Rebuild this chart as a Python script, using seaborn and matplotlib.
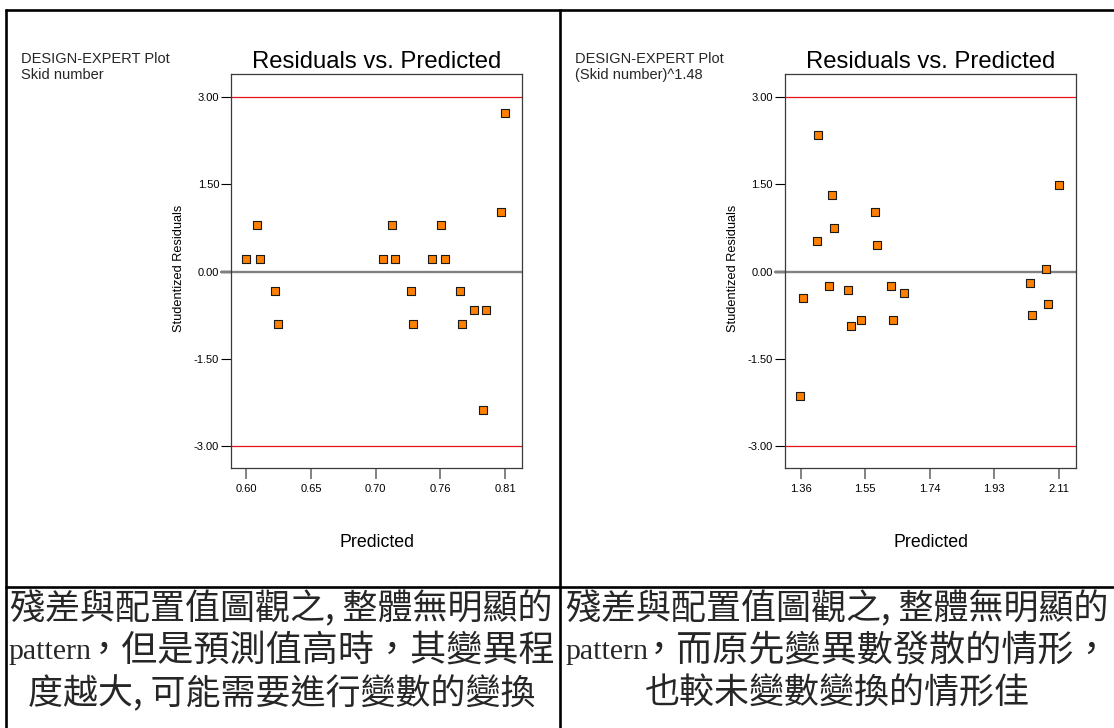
import numpy as np
import pandas as pd
import matplotlib
matplotlib.use("Agg")
import matplotlib.pyplot as plt
from matplotlib.lines import Line2D
import seaborn as sns

# ---------------- data ----------------
left_pred = [0.600, 0.6084, 0.6106, 0.6227, 0.6253, 0.7095, 0.7170, 0.7195, 0.7321, 0.7342,
             0.7491, 0.7566, 0.7594, 0.7718, 0.7738, 0.7833, 0.7928, 0.7902, 0.8051, 0.8077]
left_resid = [0.22, 0.80, 0.22, -0.34, -0.90, 0.22, 0.80, 0.22, -0.34, -0.90,
              0.22, 0.80, 0.22, -0.34, -0.90, -0.66, -0.66, -2.38, 1.02, 2.72]

right_pred = [1.412, 1.4523, 1.5752, 1.457, 1.4076, 1.5824, 1.4425, 1.4985, 1.6239, 1.6608,
              1.3661, 1.5354, 1.5058, 1.6289, 1.3583, 2.0258, 2.074, 2.110, 2.0783, 2.0305]
right_resid = [2.35, 1.315, 1.02, 0.755, 0.52, 0.46, -0.25, -0.31, -0.25, -0.37,
               -0.46, -0.84, -0.93, -0.84, -2.14, -0.19, 0.05, 1.49, -0.56, -0.75]

left_xticks = [0.600, 0.652, 0.704, 0.756, 0.808]
left_xlabels = ["0.60", "0.65", "0.70", "0.76", "0.81"]
right_xticks = [1.36, 1.5475, 1.735, 1.9225, 2.11]
right_xlabels = ["1.36", "1.55", "1.74", "1.93", "2.11"]
yticks = [3.0, 1.5, 0.0, -1.5, -3.0]
ylabels = ["3.00", "1.50", "0.00", "-1.50", "-3.00"]
limit_lines = [3.0, -3.0]

left_header = ["DESIGN-EXPERT Plot", "Skid number"]
right_header = ["DESIGN-EXPERT Plot", "(Skid number)^1.48"]
title = "Residuals vs. Predicted"
xlabel = "Predicted"
ylabel = "Studentized Residuals"

left_note = ["殘差與配置值圖觀之, 整體無明顯的", "pattern", "，但是預測值高時，其變異程",
             "度越大, 可能需要進行變數的變換"]
right_note = ["殘差與配置值圖觀之, 整體無明顯的", "pattern", "，而原先變異數發散的情形，",
              "也較未變數變換的情形佳"]

# ---------------- style ----------------
sns.set_theme(style="ticks")
plt.rcParams['font.family'] = ['Liberation Sans', 'Noto Sans CJK TC', 'DejaVu Sans']

W, H = 1114, 728
fig = plt.figure(figsize=(W / 100, H / 100), dpi=100)
fig.patch.set_facecolor("white")


def fx(x):
    return x / W


def fy(y):
    return 1 - y / H


def add_axes_px(x0, y0, x1, y1):
    return fig.add_axes([fx(x0), fy(y1), (x1 - x0) / W, (y1 - y0) / H])


panels = [
    dict(ax=add_axes_px(231.4, 74.3, 522.1, 467.7), x=left_pred, y=left_resid,
         xt=left_xticks, xl=left_xlabels, xlim=(0.5879, 0.8218), head=left_header, hx=20.7),
    dict(ax=add_axes_px(785.3, 74.3, 1076.0, 467.7), x=right_pred, y=right_resid,
         xt=right_xticks, xl=right_xlabels, xlim=(1.3156, 2.1597), head=right_header, hx=574.6),
]

for p in panels:
    ax = p["ax"]
    df = pd.DataFrame({"Predicted": p["x"], "Residual": p["y"]})
    sns.scatterplot(data=df, x="Predicted", y="Residual", ax=ax, marker="s", s=30,
                    color="#FF8000", edgecolor="#1a1a1a", linewidth=0.8, zorder=4)
    for v in limit_lines:
        ax.axhline(v, color="#E8101A", lw=0.9, zorder=2)
    ax.axhline(0, xmin=-0.036, xmax=1, color="#808080", lw=1.7, clip_on=False, zorder=2)
    ax.set_xlim(*p["xlim"])
    ax.set_ylim(-3.37, 3.39)
    ax.set_xticks(p["xt"])
    ax.set_xticklabels(p["xl"])
    ax.set_yticks(yticks)
    ax.set_yticklabels(ylabels)
    for s in ax.spines.values():
        s.set_visible(True)
        s.set_color("#3a3a3a")
        s.set_linewidth(0.9)
    ax.tick_params(axis="y", direction="out", length=7.2, width=0.8, color="black",
                   pad=1.6, labelsize=8, labelcolor="black")
    ax.tick_params(axis="x", direction="out", length=8, width=1.1, color="#606060",
                   pad=3.8, labelsize=8, labelcolor="black")
    zt = ax.yaxis.get_major_ticks()[2]
    zt.tick1line.set_color("#808080")
    zt.tick1line.set_markeredgewidth(1.7)
    ax.set_title(title, fontsize=17.2, pad=4.3, color="black")
    ax.set_xlabel(xlabel, fontsize=12.8, color="black")
    ax.xaxis.set_label_coords(0.5, -0.1914)
    ax.xaxis.label.set_va("center")
    ax.set_ylabel(ylabel, fontsize=9.2, color="black")
    ax.yaxis.set_label_coords(-0.1816, 0.506)
    ax.yaxis.label.set_va("center")
    ax.yaxis.label.set_ha("center")
    ax.grid(False)
    fig.text(fx(p["hx"]), fy(62.7), p["head"][0], fontsize=10.5, va="baseline", ha="left")
    fig.text(fx(p["hx"]), fy(79.3), p["head"][1], fontsize=10.5, va="baseline", ha="left")

# ---------------- frame lines ----------------
frame_kw = dict(color="black", lw=1.9, transform=fig.transFigure, solid_capstyle="butt")
fig.add_artist(Line2D([fx(5), fx(W)], [fy(10), fy(10)], **frame_kw))
fig.add_artist(Line2D([fx(5), fx(W)], [fy(587), fy(587)], **frame_kw))
fig.add_artist(Line2D([fx(6), fx(6)], [fy(9), fy(H)], **frame_kw))
fig.add_artist(Line2D([fx(559.5), fx(559.5)], [fy(9), fy(H)], **frame_kw))

# ---------------- notes ----------------
cjk = ["Noto Sans CJK TC", "DejaVu Sans"]
serif = ["Liberation Serif", "Noto Sans CJK TC"]
rows_y = [609, 651, 694]
fs = 25.2

for note, x0, x1 in [(left_note, 8, 555), (right_note, 565, 1110)]:
    xc = (x0 + x1) / 2
    fig.text(fx(xc), fy(rows_y[0]), note[0], fontsize=fs, family=cjk, weight="medium",
             ha="center", va="center")
    fig.text(fx(x0), fy(rows_y[1] + 1), note[1], fontsize=21.5, family=serif,
             ha="left", va="center")
    fig.text(fx(x1), fy(rows_y[1]), note[2], fontsize=26, family=cjk, weight="medium",
             ha="right", va="center")
    fig.text(fx(xc), fy(rows_y[2]), note[3], fontsize=fs, family=cjk, weight="medium",
             ha="center", va="center")

fig.savefig("out.png", dpi=100, facecolor="white")
